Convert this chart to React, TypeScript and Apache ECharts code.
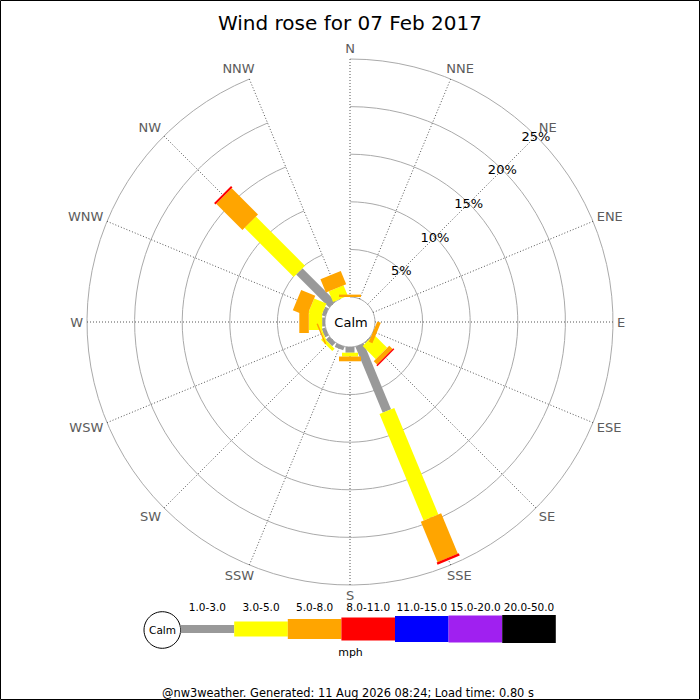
import React, { useEffect, useRef } from "react";
import * as echarts from "echarts";

const DIRECTIONS = ["N", "NNE", "NE", "ENE", "E", "ESE", "SE", "SSE", "S", "SSW", "SW", "WSW", "W", "WNW", "NW", "NNW"];
// percentage of time per direction, by speed class (mph)
const SPEED_1_3 = [0, 0, 0, 0, 0, 0, 0.1, 7.5, 0.6, 0.4, 0.5, 0.4, 0.3, 0.4, 4.9, 0];
const SPEED_3_5 = [0, 0, 0, 0, 0, 0, 1.95, 12.1, 0.4, 0, 0.35, 0.15, 1.4, 1.4, 7.3, 1.2];
const SPEED_5_8 = [0.25, 0, 0, 0, 0, 0.4, 0.5, 4.6, 0.5, 0, 0, 0.15, 1.0, 1.6, 3.9, 1.5];
const SPEED_8_11 = [0, 0, 0, 0, 0, 0, 0.15, 0.25, 0, 0, 0, 0, 0, 0, 0.2, 0];
const SPEED_CLASSES = ["1.0-3.0", "3.0-5.0", "5.0-8.0", "8.0-11.0", "11.0-15.0", "15.0-20.0", "20.0-50.0"];
const CLASS_COLORS = ["#999999", "#ffff00", "#ffa500", "#ff0000", "#0000ff", "#a020f0", "#000000"];
const PCT_TICKS = [5, 10, 15, 20, 25];
const TITLE = "Wind rose for 07 Feb 2017";
const UNIT = "mph";
const CALM = "Calm";
const FOOTER = "@nw3weather. Generated: 11 Aug 2026 08:24; Load time: 0.80 s";

const BAR_WIDTHS = [9, 16, 22, 24, 26, 27, 28];
const LEGEND_HEIGHTS = [8, 15, 20, 23, 26, 27, 28];
const FONT = "DejaVu Sans";

let measureCtx: CanvasRenderingContext2D | null = null;
function textWidth(t: string, size: number) {
  if (!measureCtx) measureCtx = document.createElement("canvas").getContext("2d");
  if (!measureCtx) return t.length * size * 0.65;
  measureCtx.font = `${size}px "${FONT}"`;
  return measureCtx.measureText(t).width;
}

export default function App() {
  const ref = useRef<HTMLDivElement>(null);
  useEffect(() => {
    if (!ref.current) return;
    const chart = echarts.init(ref.current, undefined, { renderer: "svg" });
    const classValues = [SPEED_1_3, SPEED_3_5, SPEED_5_8, SPEED_8_11];

    const barSeries = classValues.map((vals, ci) => {
      const data = DIRECTIONS.map((d, i) => {
        let start = 0;
        for (let k = 0; k < ci; k++) start += classValues[k][i];
        return [start, d, start + vals[i]];
      });
      return {
        type: "custom",
        name: SPEED_CLASSES[ci],
        coordinateSystem: "polar",
        encode: { radius: 0, angle: 1 },
        data,
        z: 3 + ci,
        silent: true,
        renderItem: (params: any, api: any) => {
          const s = api.value(0);
          const a = api.value(1);
          const e = api.value(2);
          if (!(e > s)) return null;
          const pIn = api.coord([0, a]);
          const pOut = api.coord([25, a]);
          let ux = pOut[0] - pIn[0];
          let uy = pOut[1] - pIn[1];
          const L = Math.hypot(ux, uy) || 1;
          ux /= L;
          uy /= L;
          const nx = -uy;
          const ny = ux;
          const h = BAR_WIDTHS[ci] / 2;
          const A = api.coord([s, a]);
          const B = api.coord([e, a]);
          return {
            type: "polygon",
            shape: {
              points: [
                [A[0] + nx * h, A[1] + ny * h],
                [B[0] + nx * h, B[1] + ny * h],
                [B[0] - nx * h, B[1] - ny * h],
                [A[0] - nx * h, A[1] - ny * h],
              ],
            },
            style: { fill: CLASS_COLORS[ci] },
          };
        },
      };
    });

    const pctSeries = {
      type: "custom",
      coordinateSystem: "polar",
      encode: { radius: 0, angle: 1 },
      data: PCT_TICKS.map((v) => [v, "NE"]),
      z: 10,
      silent: true,
      renderItem: (params: any, api: any) => {
        const p = api.coord([api.value(0), api.value(1)]);
        return {
          type: "text",
          x: p[0],
          y: p[1],
          style: {
            text: PCT_TICKS[params.dataIndex] + "%",
            fontSize: 13,
            fontFamily: FONT,
            fill: "#000",
            align: "center",
            verticalAlign: "middle",
          },
        };
      },
    };

    const dirLabelSeries = {
      type: "custom",
      coordinateSystem: "polar",
      encode: { radius: 0, angle: 1 },
      data: DIRECTIONS.map((d) => [25, d]),
      z: 10,
      silent: true,
      renderItem: (params: any, api: any) => {
        const a = api.value(1);
        const pc = api.coord([0, a]);
        const pR = api.coord([api.value(0), a]);
        let ux = pR[0] - pc[0];
        let uy = pR[1] - pc[1];
        const L = Math.hypot(ux, uy) || 1;
        ux /= L;
        uy /= L;
        const name = DIRECTIONS[params.dataIndex];
        const hw = textWidth(name, 13) / 2;
        const hh = 6.5;
        const kx = Math.min(1, 1.5 * Math.abs(ux));
        const ky = Math.min(1, 1.3 * Math.abs(uy));
        const sx = Math.abs(ux) < 1e-6 ? 0 : Math.sign(ux);
        const sy = Math.abs(uy) < 1e-6 ? 0 : Math.sign(uy);
        return {
          type: "text",
          x: pR[0] + ux * 4 + sx * hw * kx,
          y: pR[1] + uy * 4 + sy * hh * ky,
          style: {
            text: name,
            fontSize: 13,
            fontFamily: FONT,
            fill: "#5c5c5c",
            align: "center",
            verticalAlign: "middle",
          },
        };
      },
    };

    const legendX0 = 180.6;
    const legendW = 53.6;
    const legendCY = 629;
    const legend: any[] = [];
    SPEED_CLASSES.forEach((lab, i) => {
      const hgt = LEGEND_HEIGHTS[i];
      legend.push({
        type: "rect",
        shape: { x: legendX0 + i * legendW, y: legendCY - hgt / 2, width: legendW, height: hgt },
        style: { fill: CLASS_COLORS[i] },
        silent: true,
      });
      legend.push({
        type: "text",
        x: legendX0 + i * legendW + legendW / 2,
        y: 607,
        style: { text: lab, fontSize: 10.5, fontFamily: FONT, fill: "#000", align: "center", verticalAlign: "middle" },
        silent: true,
      });
    });

    chart.setOption({
      animation: false,
      backgroundColor: "#fff",
      polar: { center: [350, 322], radius: [25, 263] },
      angleAxis: {
        type: "category",
        data: DIRECTIONS,
        startAngle: 90,
        clockwise: true,
        boundaryGap: false,
        axisLine: { show: false },
        axisTick: { show: false, interval: 0 },
        axisLabel: { show: false, interval: 0 },
        splitLine: { show: true, interval: 0, lineStyle: { color: "#555", type: [1, 2], width: 1 } },
        splitArea: { show: false },
        z: 1,
      },
      radiusAxis: {
        type: "value",
        min: 0,
        max: 25,
        interval: 5,
        axisLine: { show: false },
        axisTick: { show: false },
        axisLabel: { show: false },
        splitLine: { show: true, lineStyle: { color: "#aaaaaa", width: 1 } },
        z: 1,
      },
      series: [...barSeries, pctSeries, dirLabelSeries],
      graphic: [
        {
          type: "rect",
          shape: { x: 0.5, y: 0.5, width: 699, height: 699 },
          style: { fill: "none", stroke: "#000", lineWidth: 1 },
          silent: true,
          z: 100,
        },
        {
          type: "text",
          x: 350,
          y: 22.5,
          style: { text: TITLE, fontSize: 20, fontFamily: FONT, fill: "#000", align: "center", verticalAlign: "middle" },
          silent: true,
        },
        {
          type: "text",
          x: 351,
          y: 322,
          z: 50,
          style: { text: CALM, fontSize: 13, fontFamily: FONT, fill: "#000", align: "center", verticalAlign: "middle" },
          silent: true,
        },
        {
          type: "circle",
          shape: { cx: 162.3, cy: 630, r: 18.3 },
          style: { fill: "#fff", stroke: "#000", lineWidth: 1 },
          silent: true,
        },
        {
          type: "text",
          x: 162.5,
          y: 630,
          style: { text: CALM, fontSize: 10.5, fontFamily: FONT, fill: "#000", align: "center", verticalAlign: "middle" },
          silent: true,
        },
        ...legend,
        {
          type: "text",
          x: 350.5,
          y: 652.5,
          style: { text: UNIT, fontSize: 11, fontFamily: FONT, fill: "#000", align: "center", verticalAlign: "middle" },
          silent: true,
        },
        {
          type: "text",
          x: 348,
          y: 692.5,
          style: { text: FOOTER, fontSize: 11.4, fontFamily: FONT, fill: "#000", align: "center", verticalAlign: "middle" },
          silent: true,
        },
      ],
    });
    return () => chart.dispose();
  }, []);
  return (
    <div
      ref={ref}
      style={{ position: "absolute", left: 0, top: 0, width: 700, height: 700, background: "#fff" }}
    />
  );
}
